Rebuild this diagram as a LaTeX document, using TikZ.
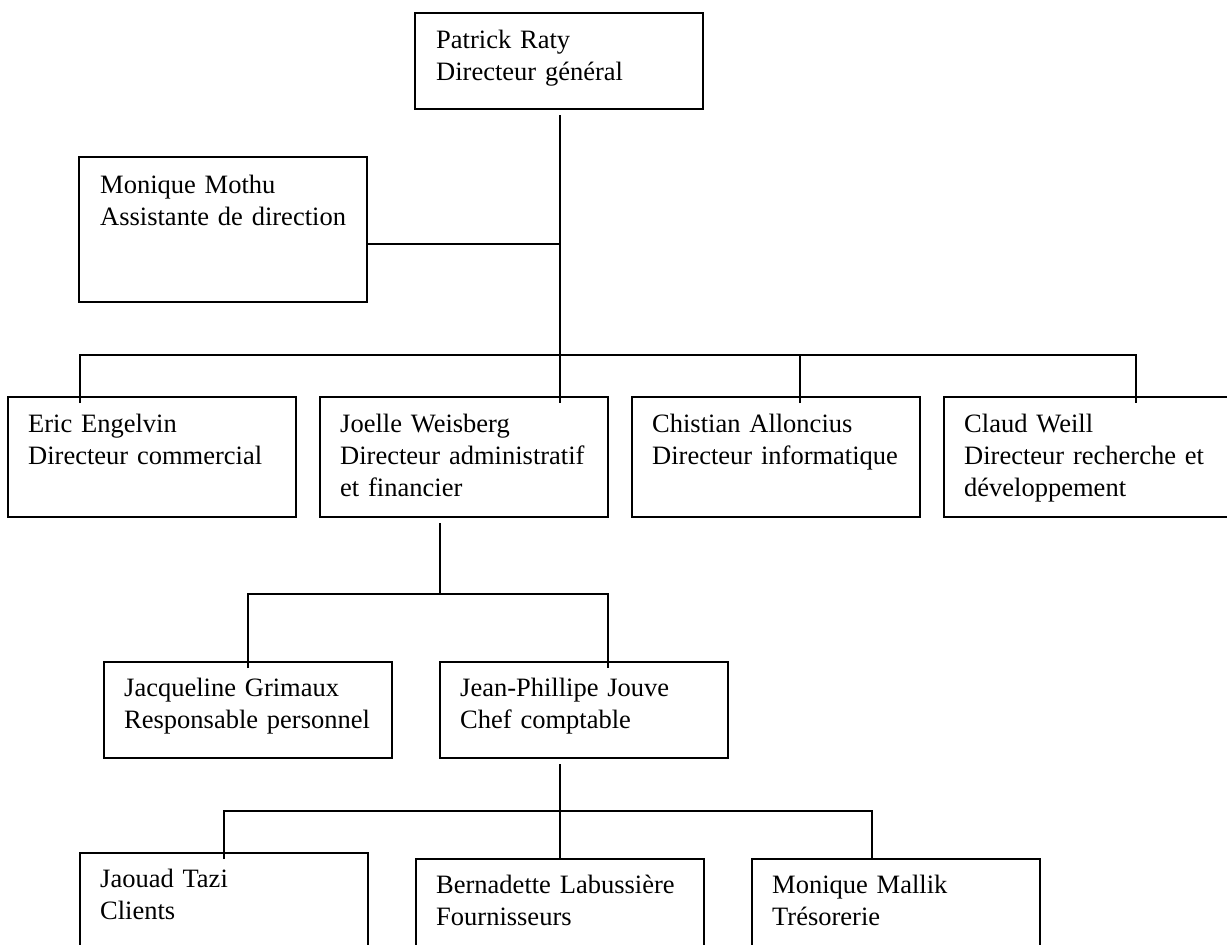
\documentclass[tikz,border=0pt]{standalone}
\usepackage{fontspec}
\setmainfont{Liberation Serif}
\usetikzlibrary{calc}
\begin{document}
\begin{tikzpicture}[x=1pt,y=-1pt,
  box/.style={draw, line width=1.8pt, rectangle, anchor=north west,
    minimum width=288pt, inner sep=0pt, outer sep=0pt},
  lbl/.style={anchor=base west, inner sep=0pt, text width=270pt, align=left,
    font=\fontsize{26.5}{32}\selectfont},
  link/.style={line width=1.8pt}]
\clip (0,0) rectangle (1227,945);

% boxes
\node[box, minimum height=96pt]  (ceo)  at (415,13)  {};
\node[box, minimum height=145pt] (asst) at (79,157)  {};
\node[box, minimum height=120pt] (eric) at (8,397)   {};
\node[box, minimum height=120pt] (jw)   at (320,397) {};
\node[box, minimum height=120pt] (ca)   at (632,397) {};
\node[box, minimum height=120pt] (cw)   at (944,397) {};
\node[box, minimum height=96pt]  (jg)   at (104,662) {};
\node[box, minimum height=96pt]  (jp)   at (440,662) {};
\node[box, minimum height=120pt] (jt)   at (80,853)  {};
\node[box, minimum height=120pt] (bl)   at (416,859) {};
\node[box, minimum height=120pt] (mm)   at (752,859) {};

% texts
\node[lbl] (ceoT)  at ($(ceo.north west)+(21,35)$)  {Patrick Raty\\Directeur général};
\node[lbl] (asstT) at ($(asst.north west)+(21,36)$) {Monique Mothu\\Assistante de direction};
\node[lbl] (ericT) at ($(eric.north west)+(20,35)$) {Eric Engelvin\\Directeur commercial};
\node[lbl] (jwT)   at ($(jw.north west)+(20,35)$)   {Joelle Weisberg\\Directeur administratif\\et financier};
\node[lbl] (caT)   at ($(ca.north west)+(20,35)$)   {Chistian Alloncius\\Directeur informatique};
\node[lbl] (cwT)   at ($(cw.north west)+(20,35)$)   {Claud Weill\\Directeur recherche et\\développement};
\node[lbl] (jgT)   at ($(jg.north west)+(20,34)$)   {Jacqueline Grimaux\\Responsable personnel};
\node[lbl] (jpT)   at ($(jp.north west)+(20,34)$)   {Jean-Phillipe Jouve\\Chef comptable};
\node[lbl] (jtT)   at ($(jt.north west)+(20,34)$)   {Jaouad Tazi\\Clients};
\node[lbl] (blT)   at ($(bl.north west)+(20,34)$)   {Bernadette Labussière\\Fournisseurs};
\node[lbl] (mmT)   at ($(mm.north west)+(20,34)$)   {Monique Mallik\\Trésorerie};

% junctions and taps
\coordinate (j0) at (560,244);
\coordinate (b1) at (560,355);
\coordinate (b2) at (440,594);
\coordinate (b3) at (560,811);
\coordinate (tEric) at ($(eric.north west)+(72,6)$);
\coordinate (tJW)   at ($(jw.north west)+(240,6)$);
\coordinate (tCA)   at ($(ca.north west)+(168,6)$);
\coordinate (tCW)   at ($(cw.north west)+(192,6)$);
\coordinate (dJW)   at ($(jw.south west)+(120,6)$);
\coordinate (tJG)   at ($(jg.north)+(0,6)$);
\coordinate (tJP)   at ($(jp.north west)+(168,6)$);
\coordinate (dJP)   at ($(jp.south west)+(120,6)$);
\coordinate (tJT)   at ($(jt.north)+(0,6)$);
\coordinate (tBL)   at ($(bl.north)+(0,0)$);
\coordinate (tMM)   at ($(mm.north west)+(120,0)$);

% connectors
\draw[link] ($(ceo.south)+(1,6)$) -- (tJW);
\draw[link] (asst.east |- j0) -- (j0);
\draw[link] (tEric) -- (tEric |- b1) -- (tCW |- b1) -- (tCW);
\draw[link] (tCA) -- (tCA |- b1);
\draw[link] (dJW) -- (b2);
\draw[link] (tJG) -- (tJG |- b2) -- (tJP |- b2) -- (tJP);
\draw[link] (dJP) -- (tBL);
\draw[link] (tJT) -- (tJT |- b3) -- (tMM |- b3) -- (tMM);
\end{tikzpicture}
\end{document}
